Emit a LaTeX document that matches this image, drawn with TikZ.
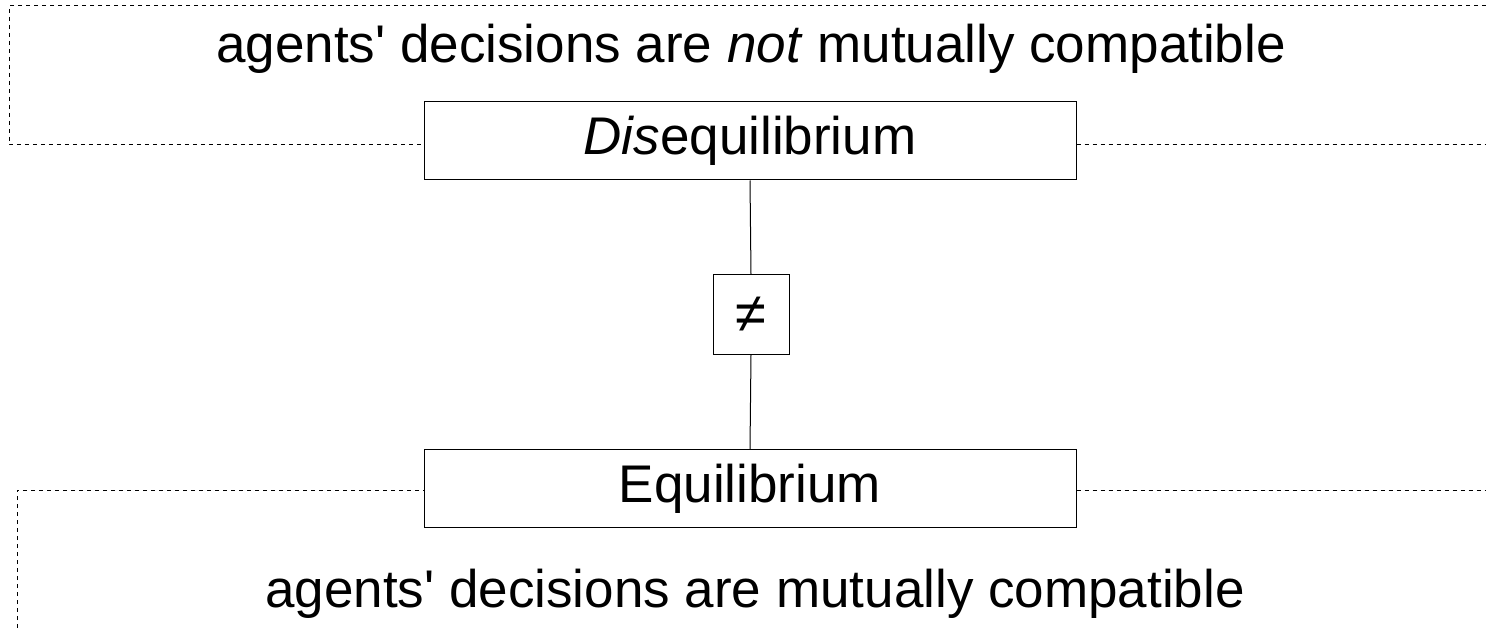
\documentclass[tikz,border=0pt]{standalone}
\usepackage{fontspec}
\setmainfont{Liberation Sans}[Ligatures=TeXOff]
\begin{document}
\begin{tikzpicture}[x=1pt,y=-1pt,
  box/.style={draw, line width=1pt, minimum width=652pt, minimum height=78pt, inner sep=0pt, font=\fontsize{53}{60}\selectfont},
  nebox/.style={draw, line width=1pt, minimum width=76pt, minimum height=79pt, inner sep=0pt, font=\fontsize{56}{60}\selectfont},
  lbl/.style={font=\fontsize{53}{60}\selectfont, inner sep=0pt},
  dsh/.style={line width=1pt, dash pattern=on 4pt off 4pt},
  conn/.style={line width=1pt}]
\useasboundingbox (0,0) rectangle (1486,628);
\node[box] (dis) at (750,141) {\textit{Dis}equilibrium};
\node[box] (eq) at (750,488.5) {Equilibrium};
\node[nebox] (ne) at (751,314.5) {≠};
\node[lbl] (top) at (751,49) {agents' decisions are \textit{not} mutually compatible};
\node[lbl] (bot) at (755,594) {agents' decisions are mutually compatible};
\coordinate (tl) at (9,6);
\coordinate (tr) at (1486,6);
\coordinate (tlb) at (9,145);
\coordinate (trb) at (1486,145);
\coordinate (bl) at (17,490);
\coordinate (blb) at (17,628);
\coordinate (br) at (1486,490);
\draw[dsh] (tr) -- (tl) -- (tlb) -- (tlb -| dis.west);
\draw[dsh] (trb -| dis.east) -- (trb);
\draw[dsh] (blb) -- (bl) -- (bl -| eq.west);
\draw[dsh] (br -| eq.east) -- (br);
\draw[conn] (dis.south) -- (ne.north);
\draw[conn] (ne.south) -- (eq.north);
\end{tikzpicture}
\end{document}
